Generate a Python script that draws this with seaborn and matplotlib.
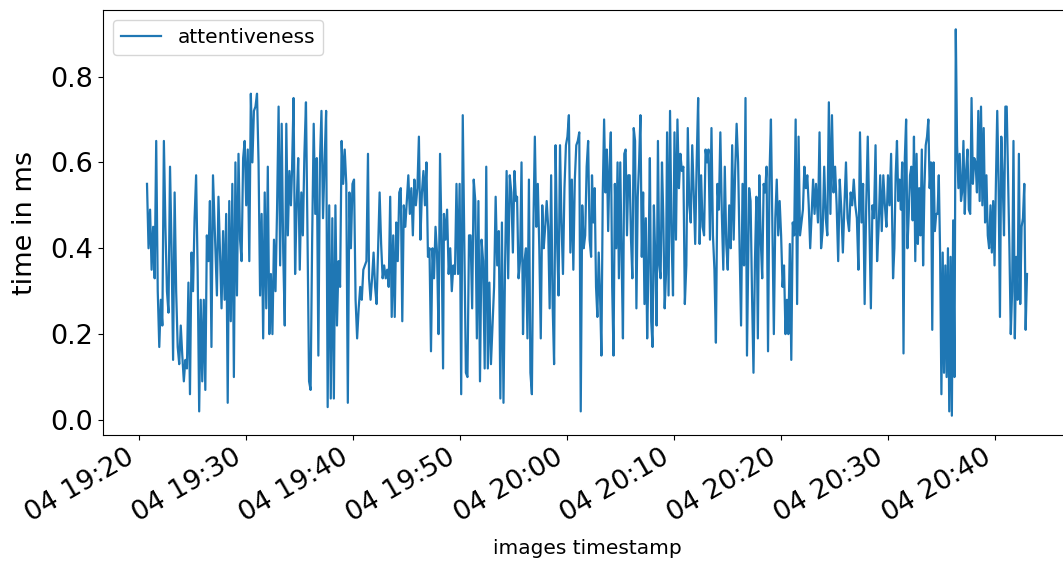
import matplotlib
matplotlib.use('Agg')
import matplotlib.pyplot as plt
import matplotlib.dates  as mdates
import numpy             as np
import pandas            as pd
import seaborn           as sns

# Giá trị attentiveness, chia thành 12 đoạn thời gian
seg_start = ['19:20:45', '19:27:17', '19:34:18', '19:41:30', '19:48:30', '19:55:20',
             '20:02:20', '20:09:21', '20:17:01', '20:23:27', '20:30:28', '20:36:55']
seg_end   = ['19:26:55', '19:34:12', '19:41:24', '19:48:25', '19:55:14', '20:02:15',
             '20:09:15', '20:16:49', '20:23:16', '20:30:17', '20:36:49', '20:42:59']

seg1 = [0.55, 0.40, 0.49, 0.35, 0.45, 0.33, 0.65, 0.30, 0.17, 0.28, 0.22, 0.65, 0.45, 0.30, 0.25,
        0.59, 0.40, 0.14, 0.53, 0.30, 0.17, 0.13, 0.22, 0.15, 0.09, 0.14, 0.12, 0.32, 0.06, 0.39,
        0.30, 0.47, 0.57, 0.35, 0.02, 0.28, 0.09, 0.28, 0.07, 0.43, 0.37, 0.51, 0.17, 0.57]
seg2 = [0.29, 0.52, 0.39, 0.26, 0.44, 0.28, 0.48, 0.04, 0.51, 0.23, 0.55, 0.10, 0.60, 0.29, 0.62,
        0.42, 0.37, 0.61, 0.65, 0.50, 0.63, 0.37, 0.76, 0.60, 0.72, 0.73, 0.76, 0.60, 0.29, 0.48,
        0.19, 0.53, 0.26, 0.59, 0.20, 0.34, 0.20, 0.42, 0.30, 0.49, 0.73, 0.36, 0.69, 0.39, 0.22,
        0.69, 0.43, 0.58, 0.50]
seg3 = [0.58, 0.75, 0.34, 0.50, 0.61, 0.35, 0.53, 0.43, 0.62, 0.74, 0.43, 0.09, 0.07, 0.42, 0.69,
        0.48, 0.61, 0.15, 0.60, 0.72, 0.47, 0.60, 0.72, 0.03, 0.50, 0.05, 0.47, 0.05, 0.50, 0.22,
        0.37, 0.31, 0.65, 0.55, 0.63, 0.55, 0.04, 0.53, 0.40, 0.55, 0.56, 0.28, 0.19, 0.26, 0.31,
        0.28, 0.35, 0.36, 0.37, 0.62]
seg4 = [0.33, 0.28, 0.33, 0.39, 0.31, 0.27, 0.40, 0.53, 0.41, 0.33, 0.36, 0.33, 0.35, 0.31, 0.52,
        0.24, 0.43, 0.24, 0.46, 0.37, 0.53, 0.54, 0.23, 0.50, 0.45, 0.51, 0.57, 0.48, 0.54, 0.43,
        0.56, 0.50, 0.54, 0.66, 0.42, 0.53, 0.58, 0.50, 0.60, 0.38, 0.40, 0.16, 0.40, 0.33, 0.45,
        0.39, 0.20, 0.62, 0.42, 0.12]
seg5 = [0.48, 0.42, 0.49, 0.34, 0.40, 0.30, 0.36, 0.34, 0.55, 0.34, 0.55, 0.06, 0.71, 0.40, 0.11,
        0.10, 0.43, 0.43, 0.26, 0.56, 0.51, 0.19, 0.51, 0.09, 0.42, 0.37, 0.12, 0.59, 0.12, 0.32,
        0.13, 0.22, 0.31, 0.52, 0.36, 0.44, 0.05, 0.46, 0.04, 0.36, 0.58, 0.33, 0.57, 0.53, 0.39,
        0.58, 0.51]
seg6 = [0.52, 0.33, 0.37, 0.60, 0.20, 0.37, 0.40, 0.19, 0.56, 0.11, 0.06, 0.45, 0.66, 0.45, 0.55,
        0.40, 0.19, 0.50, 0.40, 0.45, 0.51, 0.45, 0.26, 0.57, 0.27, 0.13, 0.64, 0.42, 0.29, 0.64,
        0.46, 0.34, 0.54, 0.64, 0.66, 0.71, 0.39, 0.56, 0.35, 0.56, 0.64, 0.65, 0.67, 0.02, 0.50,
        0.40, 0.43, 0.59, 0.65, 0.42, 0.38]
seg7 = [0.57, 0.46, 0.54, 0.31, 0.24, 0.39, 0.29, 0.15, 0.53, 0.70, 0.53, 0.63, 0.44, 0.59, 0.67,
        0.31, 0.15, 0.55, 0.40, 0.60, 0.33, 0.60, 0.38, 0.19, 0.62, 0.63, 0.43, 0.57, 0.57, 0.42,
        0.33, 0.68, 0.65, 0.26, 0.52, 0.60, 0.71, 0.38, 0.53, 0.27, 0.47, 0.19, 0.37, 0.61, 0.23,
        0.17, 0.50, 0.38, 0.22, 0.65, 0.36, 0.33, 0.60, 0.47, 0.26, 0.34]
seg8 = [0.67, 0.29, 0.72, 0.43, 0.29, 0.67, 0.42, 0.70, 0.54, 0.62, 0.58, 0.59, 0.27, 0.36, 0.68,
        0.50, 0.46, 0.64, 0.53, 0.41, 0.60, 0.75, 0.41, 0.57, 0.45, 0.43, 0.63, 0.60, 0.63, 0.42,
        0.68, 0.43, 0.35, 0.18, 0.55, 0.49, 0.67, 0.48, 0.35, 0.59, 0.41, 0.35, 0.50, 0.40, 0.64,
        0.42, 0.58, 0.69, 0.60, 0.40, 0.22, 0.55, 0.36, 0.75, 0.15]
seg9 = [0.54, 0.51, 0.29, 0.11, 0.37, 0.52, 0.19, 0.57, 0.42, 0.33, 0.55, 0.53, 0.59, 0.16, 0.57,
        0.70, 0.45, 0.20, 0.47, 0.56, 0.43, 0.51, 0.43, 0.31, 0.36, 0.20, 0.28, 0.20, 0.41, 0.14,
        0.46, 0.43, 0.70, 0.27, 0.66, 0.43, 0.46, 0.49, 0.59, 0.54, 0.57, 0.50, 0.40, 0.48, 0.56,
        0.48, 0.55]
seg10 = [0.46, 0.67, 0.40, 0.44, 0.59, 0.47, 0.43, 0.74, 0.48, 0.71, 0.53, 0.59, 0.50, 0.37, 0.56,
         0.49, 0.39, 0.50, 0.60, 0.47, 0.44, 0.53, 0.50, 0.56, 0.50, 0.47, 0.35, 0.67, 0.46, 0.55,
         0.27, 0.50, 0.66, 0.47, 0.26, 0.50, 0.47, 0.64, 0.37, 0.45, 0.57, 0.44, 0.57, 0.50, 0.45,
         0.57, 0.50, 0.62]
seg11 = [0.33, 0.40, 0.57, 0.65, 0.51, 0.56, 0.49, 0.60, 0.155, 0.61, 0.70, 0.40, 0.48, 0.57, 0.59,
         0.465, 0.66, 0.37, 0.62, 0.41, 0.54, 0.43, 0.63, 0.36, 0.54, 0.64, 0.66, 0.70, 0.54, 0.60,
         0.21, 0.60, 0.44, 0.48, 0.48, 0.57, 0.39, 0.06, 0.39, 0.11, 0.36, 0.10, 0.40, 0.02, 0.38,
         0.01, 0.465, 0.10, 0.91, 0.64, 0.54, 0.62, 0.51]
seg12 = [0.53, 0.65, 0.48, 0.58, 0.63, 0.49, 0.48, 0.75, 0.55, 0.61, 0.60, 0.53, 0.72, 0.51, 0.73,
         0.50, 0.68, 0.46, 0.57, 0.43, 0.40, 0.50, 0.39, 0.51, 0.36, 0.55, 0.72, 0.55, 0.24, 0.66,
         0.56, 0.43, 0.73, 0.73, 0.56, 0.40, 0.20, 0.30, 0.65, 0.19, 0.38, 0.28, 0.62, 0.27, 0.45,
         0.47, 0.55, 0.21, 0.34]

segments = [seg1, seg2, seg3, seg4, seg5, seg6, seg7, seg8, seg9, seg10, seg11, seg12]

# Ghép các đoạn thành một bảng timestamp / giá trị
frames = []
for s, e, vals in zip(seg_start, seg_end, segments):
    t = pd.date_range('2021-01-04 ' + s, '2021-01-04 ' + e, periods = len(vals))
    frames.append(pd.DataFrame({'timestamp': t, 'attentiveness': vals}))
data = pd.concat(frames, ignore_index = True)

# Vẽ - trục bên phải bị cắt mép hình như bản gốc
fig = plt.figure(figsize = (10.63, 5.61), dpi = 100)
ax  = fig.add_axes([103 / 1063, 1 - 435 / 561, 968 / 1063, 425 / 561])
sns.lineplot(data = data, x = 'timestamp', y = 'attentiveness', ax = ax,
             color = '#1f77b4', linewidth = 1.6, label = 'attentiveness')

ax.xaxis.set_major_locator(mdates.MinuteLocator(byminute = range(0, 60, 10)))
ax.xaxis.set_major_formatter(mdates.DateFormatter('%d %H:%M'))
ax.tick_params(axis = 'both', labelsize = 19.5)
plt.setp(ax.get_xticklabels(), rotation = 30, ha = 'right')

ax.set_xlabel('images timestamp', fontsize = 14.5, labelpad = 8)
ax.set_ylabel('time in ms', fontsize = 19.5, labelpad = 9)
ax.legend(loc = 'upper left', fontsize = 14.5)

fig.savefig('out.png', dpi = 100)
